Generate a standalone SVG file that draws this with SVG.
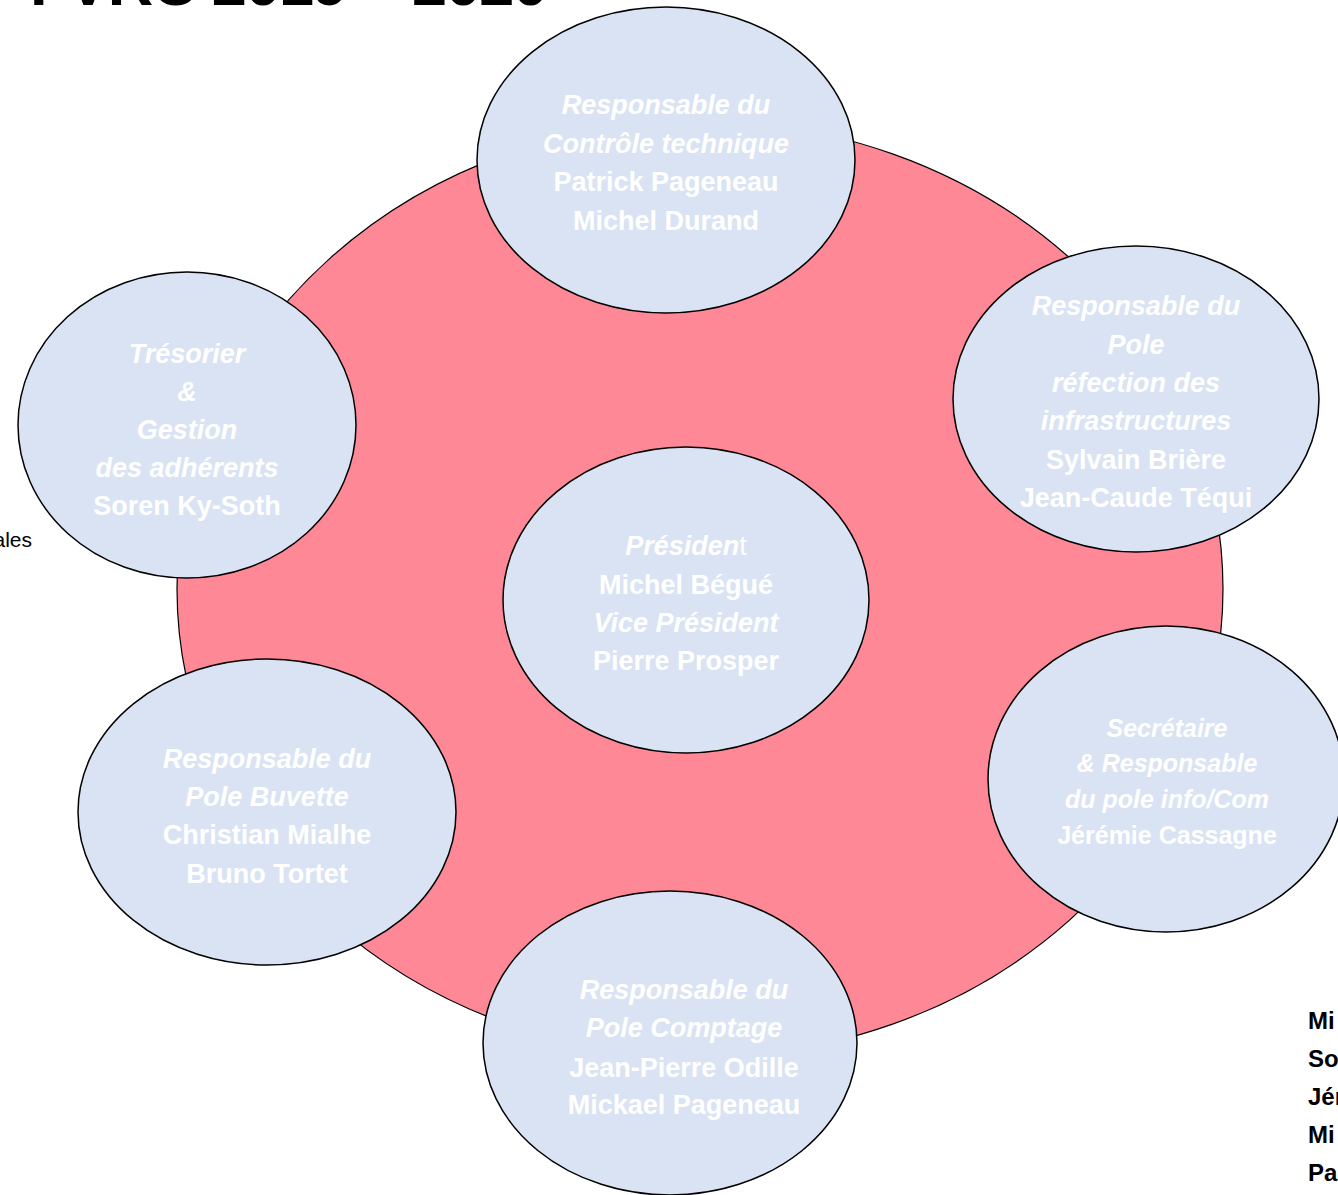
<svg xmlns="http://www.w3.org/2000/svg" width="1338" height="1195" viewBox="0 0 1338 1195">
<style>
.node{fill:#DAE3F3;stroke:#000;stroke-width:1.5}
.t{font-family:"Liberation Sans",Arial,sans-serif;font-weight:bold;fill:#FFFFFF;text-anchor:middle;font-size:27px}
.s{font-size:25px}
.i{font-style:italic}
.blk{font-family:"Liberation Sans",Arial,sans-serif;fill:#000}
</style>
<rect x="0" y="0" width="1338" height="1195" fill="#FFFFFF"/>
<text class="blk" x="30" y="5" font-size="63" font-weight="bold" textLength="518" lengthAdjust="spacing">FVRC 2019 – 2020</text>
<text class="blk" x="32" y="547" font-size="21" text-anchor="end">ales</text>
<g class="blk" font-size="24" font-weight="bold">
<text x="1308" y="1029">Mi</text>
<text x="1308" y="1067">So</text>
<text x="1308" y="1105">Jér</text>
<text x="1308" y="1143">Mi</text>
<text x="1308" y="1181">Pa</text>
</g>
<g id="connectors"></g>
<g id="ring">
<ellipse cx="700" cy="589" rx="523" ry="468" fill="#FF8896" stroke="#000" stroke-width="1.2"/>
</g>
<g id="node-controle">
<ellipse class="node" cx="666" cy="160" rx="189" ry="153"/>
<text class="t i" x="666" y="114">Responsable du</text>
<text class="t i" x="666" y="152.5">Contrôle technique</text>
<text class="t" x="666" y="191">Patrick Pageneau</text>
<text class="t" x="666" y="229.5">Michel Durand</text>
</g>
<g id="node-tresorier">
<ellipse class="node" cx="187" cy="425" rx="169" ry="153"/>
<text class="t i" x="187" y="362.5">Trésorier</text>
<text class="t i" x="187" y="401">&amp;</text>
<text class="t i" x="187" y="438.5">Gestion</text>
<text class="t i" x="187" y="476.5">des adhérents</text>
<text class="t" x="187" y="515">Soren Ky-Soth</text>
</g>
<g id="node-infra">
<ellipse class="node" cx="1136" cy="399" rx="183" ry="153"/>
<text class="t i" x="1136" y="315">Responsable du</text>
<text class="t i" x="1136" y="353.5">Pole</text>
<text class="t i" x="1136" y="391.5">réfection des</text>
<text class="t i" x="1136" y="430">infrastructures</text>
<text class="t" x="1136" y="468.5">Sylvain Brière</text>
<text class="t" x="1136" y="506.5">Jean-Caude Téqui</text>
</g>
<g id="node-president">
<ellipse class="node" cx="686" cy="600" rx="183" ry="153"/>
<text class="t" x="686" y="555"><tspan class="i">Présiden</tspan><tspan font-weight="normal">t</tspan></text>
<text class="t" x="686" y="594">Michel Bégué</text>
<text class="t i" x="686" y="632">Vice Président</text>
<text class="t" x="686" y="670">Pierre Prosper</text>
</g>
<g id="node-secretaire">
<ellipse class="node" cx="1166" cy="779" rx="178" ry="153"/>
<text class="t s i" x="1167" y="737">Secrétaire</text>
<text class="t s i" x="1167" y="772">&amp; Responsable</text>
<text class="t s i" x="1167" y="808">du pole info/Com</text>
<text class="t s" x="1167" y="843.5">Jérémie Cassagne</text>
</g>
<g id="node-buvette">
<ellipse class="node" cx="267" cy="812" rx="189" ry="153"/>
<text class="t i" x="267" y="767.5">Responsable du</text>
<text class="t i" x="267" y="806">Pole Buvette</text>
<text class="t" x="267" y="844">Christian Mialhe</text>
<text class="t" x="267" y="882.5">Bruno Tortet</text>
</g>
<g id="node-comptage">
<ellipse class="node" cx="670" cy="1043" rx="187" ry="152"/>
<text class="t i" x="684" y="998.5">Responsable du</text>
<text class="t i" x="684" y="1036.5">Pole Comptage</text>
<text class="t" x="684" y="1076.5">Jean-Pierre Odille</text>
<text class="t" x="684" y="1114">Mickael Pageneau</text>
</g>
</svg>
